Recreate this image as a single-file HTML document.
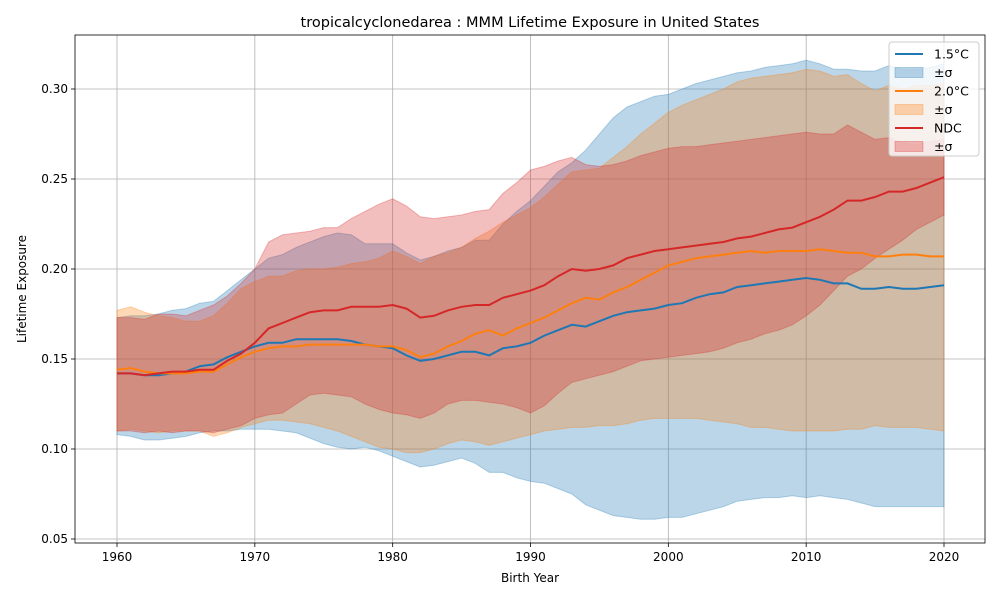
<!DOCTYPE html>
<html><head><meta charset="utf-8"><style>
body{margin:0;background:#fff;font-family:"Liberation Sans","DejaVu Sans",sans-serif}
svg text{font-family:"DejaVu Sans","Liberation Sans",sans-serif;fill:#000}
</style></head><body>
<svg id="chart" width="1000" height="600" viewBox="0 0 1000 600" xmlns="http://www.w3.org/2000/svg"></svg>
<script>
const years=[];for(let y=1960;y<=2020;y++)years.push(y);
const mean15=[.142,.142,.141,.141,.142,.143,.146,.147,.151,.154,.157,.159,.159,.161,.161,.161,.161,.160,.158,.157,.156,.152,.149,.150,.152,.154,.154,.152,.156,.157,.159,.163,.166,.169,.168,.171,.174,.176,.177,.178,.180,.181,.184,.186,.187,.190,.191,.192,.193,.194,.195,.194,.192,.192,.189,.189,.190,.189,.189,.190,.191];
const up15=[.173,.174,.174,.175,.177,.178,.181,.182,.188,.194,.200,.206,.208,.212,.215,.218,.220,.219,.214,.214,.214,.209,.205,.207,.210,.212,.216,.216,.225,.232,.238,.246,.254,.259,.266,.275,.284,.290,.293,.296,.297,.300,.303,.305,.307,.309,.310,.312,.313,.314,.316,.314,.311,.311,.310,.310,.313,.311,.311,.312,.314];
const lo15=[.108,.107,.105,.105,.106,.107,.109,.110,.110,.111,.111,.111,.110,.109,.106,.103,.101,.100,.101,.099,.096,.093,.090,.091,.093,.095,.092,.087,.087,.084,.082,.081,.078,.075,.069,.066,.063,.062,.061,.061,.062,.062,.064,.066,.068,.071,.072,.073,.073,.074,.073,.074,.073,.072,.070,.068,.068,.068,.068,.068,.068];
const mean20=[.144,.145,.143,.142,.142,.142,.143,.143,.147,.151,.154,.156,.157,.157,.158,.158,.158,.158,.158,.157,.157,.155,.151,.153,.157,.160,.164,.166,.163,.167,.170,.173,.177,.181,.184,.183,.187,.190,.194,.198,.202,.204,.206,.207,.208,.209,.210,.209,.210,.210,.210,.211,.210,.209,.209,.207,.207,.208,.208,.207,.207];
const up20=[.177,.179,.176,.174,.173,.171,.171,.174,.181,.189,.193,.196,.196,.199,.200,.200,.201,.203,.204,.206,.210,.207,.203,.207,.209,.212,.217,.221,.226,.230,.234,.240,.247,.254,.255,.256,.262,.268,.275,.281,.287,.291,.294,.297,.300,.304,.306,.307,.308,.309,.311,.310,.307,.308,.303,.299,.302,.300,.302,.302,.303];
const lo20=[.110,.111,.110,.109,.110,.110,.110,.107,.109,.112,.114,.116,.116,.115,.114,.112,.110,.107,.104,.101,.100,.098,.098,.100,.103,.105,.104,.102,.104,.106,.108,.110,.111,.112,.112,.113,.113,.114,.116,.117,.117,.117,.117,.116,.115,.114,.112,.112,.111,.110,.110,.110,.110,.111,.111,.113,.112,.112,.112,.111,.110];
const meanNDC=[.142,.142,.141,.142,.143,.143,.144,.144,.149,.153,.159,.167,.170,.173,.176,.177,.177,.179,.179,.179,.180,.178,.173,.174,.177,.179,.180,.180,.184,.186,.188,.191,.196,.200,.199,.200,.202,.206,.208,.210,.211,.212,.213,.214,.215,.217,.218,.220,.222,.223,.226,.229,.233,.238,.238,.240,.243,.243,.245,.248,.251];
const upNDC=[.173,.173,.172,.175,.175,.174,.177,.180,.185,.192,.200,.215,.219,.220,.221,.223,.223,.228,.232,.236,.239,.235,.229,.228,.229,.230,.232,.233,.242,.248,.255,.257,.260,.262,.258,.257,.258,.260,.263,.265,.267,.268,.268,.269,.270,.271,.272,.273,.274,.275,.276,.275,.275,.280,.276,.272,.273,.270,.269,.271,.272];
const loNDC=[.110,.110,.109,.110,.109,.110,.110,.109,.111,.113,.117,.119,.120,.125,.130,.131,.130,.129,.125,.122,.120,.119,.117,.120,.125,.127,.127,.126,.125,.123,.120,.124,.131,.137,.139,.141,.143,.146,.149,.150,.151,.152,.153,.154,.156,.159,.161,.164,.166,.169,.174,.180,.188,.196,.200,.206,.211,.216,.222,.226,.230];
const xTicks=[1960,1970,1980,1990,2000,2010,2020];
const yTicks=[0.05,0.10,0.15,0.20,0.25,0.30];

const svg=document.getElementById('chart');
const NS='http://www.w3.org/2000/svg';
const L=75,R=985,T=35,B=543;
const xs=v=>117+(v-1960)*(944-117)/60;
const ys=v=>539-(v-0.05)*1800;
function el(tag,attrs,parent){const e=document.createElementNS(NS,tag);for(const k in attrs)e.setAttribute(k,attrs[k]);(parent||svg).appendChild(e);return e;}

xTicks.forEach(t=>{
  const g=el('line',{x1:xs(t),x2:xs(t),y1:T,y2:B,stroke:'#b0b0b0','stroke-width':0.8});
  
  
  el('line',{x1:xs(t),x2:xs(t),y1:B,y2:B+4,stroke:'#000','stroke-width':0.8});
  const tx=el('text',{x:xs(t),y:B+18,'text-anchor':'middle','font-size':12});tx.textContent=t;
  
  
});
yTicks.forEach(t=>{
  const g=el('line',{x1:L,x2:R,y1:ys(t),y2:ys(t),stroke:'#b0b0b0','stroke-width':0.8});
  
  
  el('line',{x1:L-4,x2:L,y1:ys(t),y2:ys(t),stroke:'#000','stroke-width':0.8});
  const tx=el('text',{x:L-7,y:ys(t)+4,'text-anchor':'end','font-size':12});tx.textContent=t.toFixed(2);
  
  
});
function band(up,lo,color,name){
  let d='M'+years.map((y,i)=>xs(y)+','+ys(up[i])).join('L');
  for(let i=years.length-1;i>=0;i--)d+='L'+xs(years[i])+','+ys(lo[i]);
  const p=el('path',{d:d+'Z',fill:color,'fill-opacity':0.3,stroke:color,'stroke-opacity':0.3});
  
  
}
function line(m,color,name){
  const p=el('polyline',{points:years.map((y,i)=>xs(y)+','+ys(m[i])).join(' '),fill:'none',stroke:color,'stroke-width':2});
  
  
}
band(up15,lo15,'#1f77b4','band-1-5c');
band(up20,lo20,'#ff7f0e','band-2-0c');
band(upNDC,loNDC,'#d62728','band-ndc');
line(mean15,'#1f77b4','line-1-5c');
line(mean20,'#ff7f0e','line-2-0c');
line(meanNDC,'#d62728','line-ndc');
const fr=el('rect',{x:L,y:T,width:R-L,height:B-T,fill:'none',stroke:'#000','stroke-width':0.8});


const title=el('text',{x:530,y:27,'text-anchor':'middle','font-size':14.5});title.textContent='tropicalcyclonedarea : MMM Lifetime Exposure in United States';


const xl=el('text',{x:530,y:582,'text-anchor':'middle','font-size':12});xl.textContent='Birth Year';


const yl=el('text',{x:26,y:289,'text-anchor':'middle','font-size':12,transform:'rotate(-90 26 289)'});yl.textContent='Lifetime Exposure';


const lg=el('g',{});


el('rect',{x:889,y:42,width:90,height:114,rx:3,fill:'#fff','fill-opacity':0.8,stroke:'#ccc'},lg);
const entries=[['1.5°C','#1f77b4',0],['±σ','#1f77b4',1],['2.0°C','#ff7f0e',0],['±σ','#ff7f0e',1],['NDC','#d62728',0],['±σ','#d62728',1]];
entries.forEach((e,i)=>{
  const cy=54+i*18.5;
  if(e[2])el('rect',{x:895,y:cy-5,width:28,height:10,fill:e[1],'fill-opacity':0.3,stroke:e[1],'stroke-opacity':0.3},lg);
  else el('line',{x1:895,x2:923,y1:cy,y2:cy,stroke:e[1],'stroke-width':2},lg);
  const t=el('text',{x:934,y:cy+4.5,'font-size':12.5},lg);t.textContent=e[0];
  
  
});
</script>
</body></html>
